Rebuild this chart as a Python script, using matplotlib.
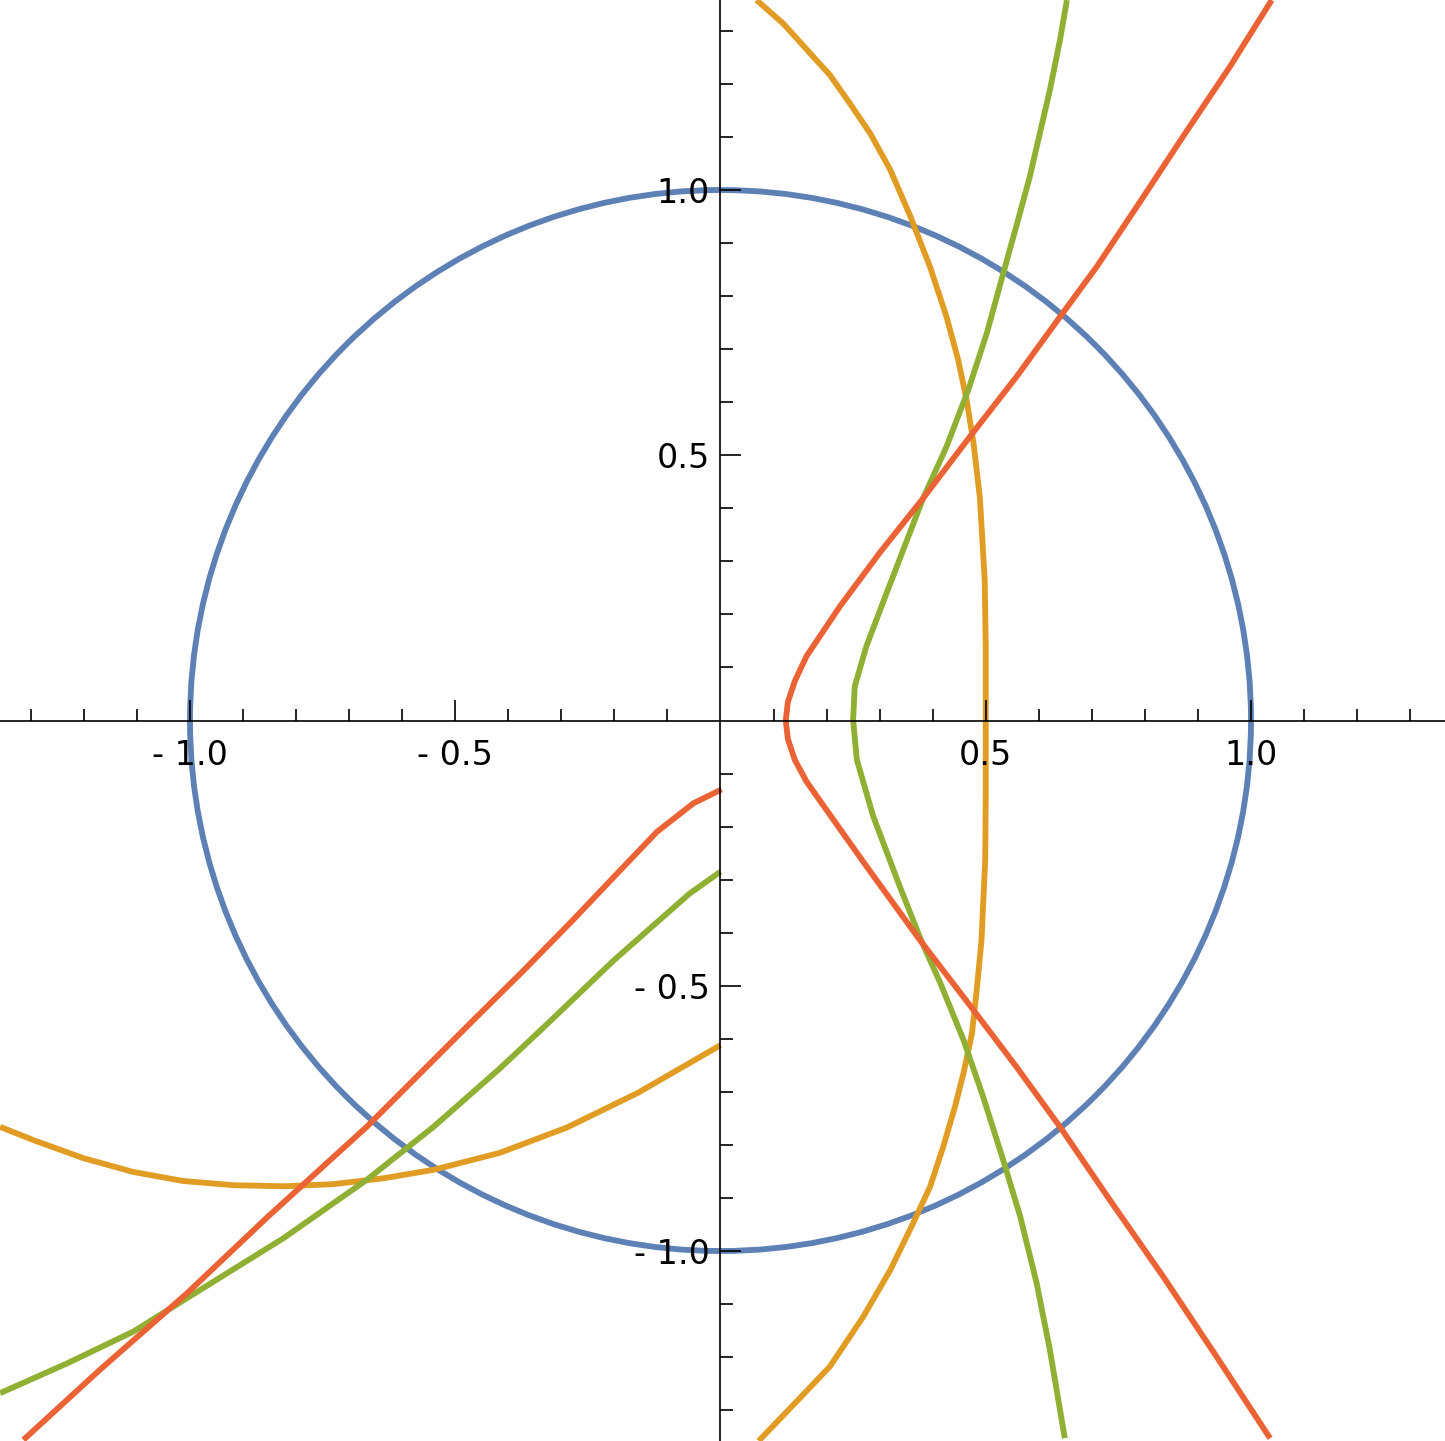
#!/usr/bin/env python3
"""Unit circle plus three two-branch curves, Mathematica-style axes through the origin."""
import numpy as np
import matplotlib
matplotlib.use("Agg")
import matplotlib.pyplot as plt
from matplotlib.patches import Circle
from matplotlib.ticker import FixedLocator, FuncFormatter

# unit circle
CIRCLE_R = 1.0

# orange curve: right branch (top -> bottom) and left branch (axis -> left edge)
orange_rx = [0.068, 0.118, 0.175, 0.206, 0.244, 0.282, 0.320, 0.358, 0.395, 0.426, 0.448, 0.464,
             0.477, 0.489, 0.498, 0.500, 0.500, 0.500, 0.499, 0.492, 0.483, 0.474, 0.458, 0.442,
             0.420, 0.395, 0.360, 0.320, 0.269, 0.206, 0.146, 0.072]
orange_ry = [1.358, 1.314, 1.251, 1.217, 1.163, 1.107, 1.038, 0.950, 0.855, 0.761, 0.680, 0.604,
             0.523, 0.419, 0.265, 0.140, 0.000, -0.140, -0.263, -0.414, -0.508, -0.590, -0.665, -0.728,
             -0.803, -0.879, -0.954, -1.036, -1.124, -1.218, -1.281, -1.358]
orange_lx = [0.000, -0.156, -0.289, -0.416, -0.541, -0.636, -0.730, -0.824, -0.918, -1.013,
             -1.107, -1.201, -1.295, -1.358]
orange_ly = [-0.612, -0.702, -0.767, -0.815, -0.847, -0.863, -0.874, -0.878, -0.876, -0.868,
             -0.851, -0.825, -0.791, -0.766]

# green curve
green_rx = [0.653, 0.640, 0.621, 0.602, 0.583, 0.561, 0.533, 0.502, 0.467, 0.426, 0.382, 0.313,
            0.275, 0.253, 0.250, 0.257, 0.288, 0.338, 0.378, 0.414, 0.458, 0.495, 0.533, 0.565,
            0.596, 0.621, 0.649]
green_ry = [1.358, 1.283, 1.189, 1.107, 1.025, 0.944, 0.843, 0.730, 0.623, 0.516, 0.419, 0.240,
            0.140, 0.064, 0.001, -0.074, -0.181, -0.313, -0.414, -0.494, -0.602, -0.709, -0.829, -0.935,
            -1.061, -1.187, -1.353]
green_lx = [0.000, -0.058, -0.108, -0.201, -0.334, -0.416, -0.541, -0.667, -0.824, -1.006,
            -1.107, -1.232, -1.358]
green_ly = [-0.285, -0.326, -0.370, -0.452, -0.579, -0.656, -0.766, -0.866, -0.976, -1.089,
            -1.152, -1.212, -1.268]

# red curve
red_rx = [1.039, 0.960, 0.872, 0.797, 0.709, 0.640, 0.558, 0.470, 0.382, 0.300, 0.225, 0.162,
          0.140, 0.127, 0.123, 0.127, 0.140, 0.162, 0.200, 0.276, 0.376, 0.477, 0.558, 0.640,
          0.734, 0.835, 0.935, 1.036]
red_ry = [1.358, 1.232, 1.101, 0.987, 0.855, 0.761, 0.648, 0.535, 0.419, 0.316, 0.215, 0.121,
          0.074, 0.035, 0.000, -0.035, -0.074, -0.115, -0.169, -0.276, -0.414, -0.546, -0.653, -0.766,
          -0.904, -1.049, -1.199, -1.353]
red_lx = [0.002, -0.051, -0.120, -0.183, -0.278, -0.372, -0.467, -0.541, -0.667, -0.855,
          -1.006, -1.170, -1.314]
red_ly = [-0.130, -0.156, -0.210, -0.276, -0.376, -0.472, -0.566, -0.640, -0.766, -0.937,
          -1.080, -1.224, -1.356]

major_ticks = [-1.0, -0.5, 0.5, 1.0]
minor_ticks = [round(t, 1) for t in np.arange(-1.3, 1.31, 0.1)
               if abs(round(t * 2) - t * 2) > 1e-6]

BLUE, ORANGE, GREEN, RED = "#5E81B5", "#E19C24", "#8FB032", "#EB6235"
LW = 4.2


def fmt(v, _):
    return f"- {abs(v):.1f}" if v < 0 else f"{v:.1f}"


def main():
    fig = plt.figure(figsize=(14.45, 14.41), dpi=100)
    ax = fig.add_axes([0, 0, 1, 1])
    ax.set_xlim(-720.5 / 530.5, 724.5 / 530.5)
    ax.set_ylim(-720.5 / 530.5, 720.5 / 530.5)

    ax.add_patch(Circle((0, 0), CIRCLE_R, fill=False, ec=BLUE, lw=LW, zorder=2))
    for xs, ys, c in [(orange_rx, orange_ry, ORANGE), (orange_lx, orange_ly, ORANGE),
                      (green_rx, green_ry, GREEN), (green_lx, green_ly, GREEN),
                      (red_rx, red_ry, RED), (red_lx, red_ly, RED)]:
        ax.plot(xs, ys, color=c, lw=LW, solid_capstyle="butt", solid_joinstyle="round", zorder=2)

    # axes through the origin, drawn over the curves
    for s in ("top", "right"):
        ax.spines[s].set_visible(False)
    for s in ("left", "bottom"):
        ax.spines[s].set_position("zero")
        ax.spines[s].set_linewidth(1.2)
        ax.spines[s].set_zorder(3)
    ax.set_axisbelow(False)
    for axis in (ax.xaxis, ax.yaxis):
        axis.set_major_locator(FixedLocator(major_ticks))
        axis.set_minor_locator(FixedLocator(minor_ticks))
        axis.set_major_formatter(FuncFormatter(fmt))
    ax.tick_params(which="major", direction="in", length=15, width=1.2, labelsize=24)
    ax.tick_params(which="minor", direction="in", length=9, width=1.2)
    ax.tick_params(axis="x", which="major", pad=13)
    ax.tick_params(axis="y", which="major", pad=7.5)

    fig.savefig("out.png", dpi=100)


if __name__ == "__main__":
    main()
